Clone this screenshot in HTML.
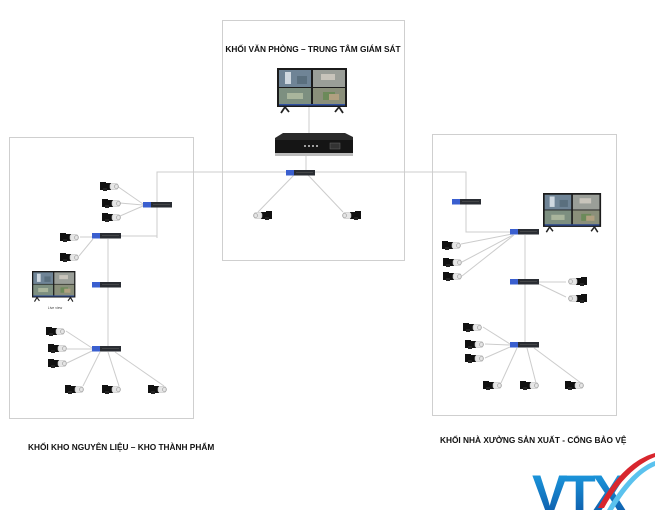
<!DOCTYPE html>
<html><head><meta charset="utf-8"><style>
html,body{margin:0;padding:0;background:#fff;width:655px;height:510px;overflow:hidden}
svg{display:block}
</style></head><body>
<svg width="655" height="510" viewBox="0 0 655 510" xmlns="http://www.w3.org/2000/svg" font-family="Liberation Sans, DejaVu Sans, sans-serif">
<defs>
<g id="camR">
  <rect x="0" y="1" width="11" height="7" fill="#111"/>
  <rect x="0" y="0" width="6" height="2" fill="#111"/>
  <rect x="3" y="6" width="4" height="3" fill="#222"/>
  <rect x="10" y="1.5" width="8" height="6" rx="2" fill="#e6e6e6" stroke="#bbb" stroke-width="0.6"/>
  <circle cx="16.5" cy="4.5" r="2" fill="none" stroke="#999" stroke-width="0.6"/>
</g>
<g id="camL"><use href="#camR" transform="translate(19,0) scale(-1,1)"/></g>
<g id="sw">
  <rect x="0" y="0" width="29" height="5.5" fill="#2a2d33"/>
  <rect x="0" y="0" width="8" height="5.5" fill="#3a5fcf"/>
  <line x1="10" y1="2.7" x2="27" y2="2.7" stroke="#555" stroke-width="0.6"/>
</g>
<g id="mon">
  <rect x="0" y="0" width="70" height="39" fill="#1b1b1b"/>
  <rect x="2" y="2" width="32" height="17" fill="#6f8496"/>
  <rect x="36" y="2" width="32" height="17" fill="#9a9e98"/>
  <rect x="2" y="20" width="32" height="16" fill="#7d8f80"/>
  <rect x="36" y="20" width="32" height="16" fill="#8a8f7a"/>
  <rect x="8" y="4" width="6" height="12" fill="#cfd8e0"/>
  <rect x="44" y="6" width="14" height="6" fill="#c8c4bb"/>
  <rect x="10" y="25" width="16" height="6" fill="#a9b59c"/>
  <rect x="46" y="24" width="12" height="8" fill="#6c8a5a"/>
  <rect x="20" y="8" width="10" height="8" fill="#5a6f7e"/>
  <rect x="52" y="26" width="10" height="6" fill="#b0a080"/>
  <rect x="2" y="36" width="66" height="1.5" fill="#3050a0"/>
  <path d="M8 39 L4 45 M8 39 L12 44" stroke="#222" stroke-width="1.8"/>
  <path d="M62 39 L58 44 M62 39 L66 45" stroke="#222" stroke-width="1.8"/>
</g>
<linearGradient id="vtx" x1="0" y1="0" x2="0" y2="1">
  <stop offset="0" stop-color="#1ea3e6"/><stop offset="1" stop-color="#0b4fa0"/>
</linearGradient>
</defs>

<rect x="222.5" y="20.5" width="182" height="240" fill="none" stroke="#cfcfcf" stroke-width="1"/>
<rect x="9.5" y="137.5" width="184" height="281" fill="none" stroke="#cfcfcf" stroke-width="1"/>
<rect x="432.5" y="134.5" width="184" height="281" fill="none" stroke="#cfcfcf" stroke-width="1"/>

<text x="313" y="52" font-size="8.3" font-weight="bold" text-anchor="middle" fill="#111">KHỐI VĂN PHÒNG – TRUNG TÂM GIÁM SÁT</text>
<text x="28" y="450" font-size="8.3" font-weight="bold" fill="#111">KHỐI KHO NGUYÊN LIỆU – KHO THÀNH PHẨM</text>
<text x="440" y="443" font-size="8.3" font-weight="bold" fill="#111">KHỐI NHÀ XƯỞNG SẢN XUẤT - CỔNG BẢO VỆ</text>

<g stroke="#cccccc" stroke-width="1" fill="none">
  <line x1="309" y1="107" x2="309" y2="134"/>
  <line x1="306" y1="155" x2="306" y2="170"/>
  <polyline points="157,238 157,172 466,172 466,232 510,232"/>
  <line x1="294" y1="175" x2="258" y2="212"/>
  <line x1="308" y1="175" x2="343" y2="212"/>
  <line x1="121" y1="236" x2="157" y2="236"/>
  <line x1="117" y1="186" x2="143" y2="204"/>
  <line x1="120" y1="203" x2="143" y2="205"/>
  <line x1="120" y1="216" x2="143" y2="206"/>
  <line x1="80" y1="237" x2="92" y2="237"/>
  <line x1="79" y1="256" x2="93" y2="239"/>
  <line x1="108" y1="239" x2="108" y2="347"/>
  <line x1="66" y1="331" x2="92" y2="348"/>
  <line x1="67" y1="349" x2="92" y2="349"/>
  <line x1="67" y1="363" x2="92" y2="351"/>
  <line x1="100" y1="352" x2="83" y2="386"/>
  <line x1="108" y1="352" x2="119" y2="386"/>
  <line x1="115" y1="352" x2="164" y2="386"/>
  <line x1="525" y1="235" x2="525" y2="343"/>
  <line x1="461" y1="244" x2="512" y2="234"/>
  <line x1="462" y1="262" x2="513" y2="235"/>
  <line x1="462" y1="276" x2="514" y2="235"/>
  <line x1="539" y1="282" x2="566" y2="282"/>
  <line x1="539" y1="284" x2="566" y2="297"/>
  <line x1="483" y1="327" x2="510" y2="344"/>
  <line x1="485" y1="344" x2="510" y2="345"/>
  <line x1="485" y1="358" x2="510" y2="347"/>
  <line x1="517" y1="348" x2="501" y2="383"/>
  <line x1="527" y1="348" x2="536" y2="383"/>
  <line x1="534" y1="348" x2="581" y2="383"/>
</g>

<use href="#mon" transform="translate(277,68)"/>
<g>
  <path d="M283 133 L345 133 L353 137 L353 156 L275 156 L275 138 Z" fill="#2a2a2a"/>
  <rect x="275" y="140" width="78" height="14" fill="#151515"/>
  <rect x="275" y="153" width="78" height="3" fill="#bbb"/>
  <circle cx="305" cy="146" r="1" fill="#ccc"/><circle cx="309" cy="146" r="1" fill="#ccc"/>
  <circle cx="313" cy="146" r="1" fill="#ccc"/><circle cx="317" cy="146" r="1" fill="#ccc"/>
  <rect x="330" y="143" width="10" height="6" fill="#333" stroke="#666" stroke-width="0.5"/>
</g>
<use href="#sw" transform="translate(286,170)"/>
<use href="#camL" transform="translate(253,211)"/>
<use href="#camL" transform="translate(342,211)"/>

<use href="#sw" transform="translate(143,202)"/>
<use href="#camR" transform="translate(100,182)"/>
<use href="#camR" transform="translate(102,199)"/>
<use href="#camR" transform="translate(102,213)"/>
<use href="#sw" transform="translate(92,233)"/>
<use href="#camR" transform="translate(60,233)"/>
<use href="#camR" transform="translate(60,253)"/>
<use href="#mon" transform="translate(32,271) scale(0.62,0.68)"/>
<text x="55" y="309" font-size="3.5" text-anchor="middle" fill="#444">Live view</text>
<use href="#sw" transform="translate(92,282)"/>
<use href="#sw" transform="translate(92,346)"/>
<use href="#camR" transform="translate(46,327)"/>
<use href="#camR" transform="translate(48,344)"/>
<use href="#camR" transform="translate(48,359)"/>
<use href="#camR" transform="translate(65,385)"/>
<use href="#camR" transform="translate(102,385)"/>
<use href="#camR" transform="translate(148,385)"/>

<use href="#sw" transform="translate(452,199)"/>
<use href="#mon" transform="translate(543,193) scale(0.83,0.87)"/>
<use href="#sw" transform="translate(510,229)"/>
<use href="#camR" transform="translate(442,241)"/>
<use href="#camR" transform="translate(443,258)"/>
<use href="#camR" transform="translate(443,272)"/>
<use href="#sw" transform="translate(510,279)"/>
<use href="#camL" transform="translate(568,277)"/>
<use href="#camL" transform="translate(568,294)"/>
<use href="#sw" transform="translate(510,342)"/>
<use href="#camR" transform="translate(463,323)"/>
<use href="#camR" transform="translate(465,340)"/>
<use href="#camR" transform="translate(465,354)"/>
<use href="#camR" transform="translate(483,381)"/>
<use href="#camR" transform="translate(520,381)"/>
<use href="#camR" transform="translate(565,381)"/>

<text x="532" y="512" font-size="53" font-weight="bold" fill="url(#vtx)" letter-spacing="-4" font-family="Liberation Sans, sans-serif">VTX</text>
<path d="M598 508 C612 482 630 460 655 453 L655 457 C634 465 616 486 604 508 Z" fill="#d8262e"/>
<path d="M607 510 C620 488 636 468 655 461 L655 466 C638 473 624 492 613 510 Z" fill="#5bc2ee"/>
</svg>
</body></html>
